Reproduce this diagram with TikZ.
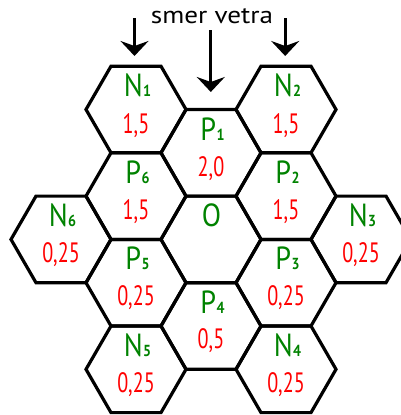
\documentclass[tikz,border=0pt]{standalone}
\usepackage{fontspec}
\setmainfont{PT Sans}
\usepackage{graphicx}
\usetikzlibrary{arrows.meta}
\definecolor{lblgreen}{RGB}{0,130,0}
\definecolor{valred}{RGB}{255,0,0}
\newcommand{\hexlab}[2]{\scalebox{0.88}[1]{#1\kern0.5pt{\bfseries\fontsize{16}{16}\selectfont #2}}}
\newcommand{\hexval}[1]{\scalebox{0.72}[1]{#1}}
\tikzset{
  hexline/.style={line width=3.2pt, line join=miter},
  lbl/.style={text=lblgreen, inner sep=0pt, anchor=base, font=\fontsize{32}{32}\selectfont},
  val/.style={text=valred, inner sep=0pt, anchor=base, font=\fontsize{28}{28}\selectfont},
  windarrow/.style={line width=3pt, -{Stealth[length=15pt,width=28pt,inset=5pt]}},
  title/.style={inner sep=0pt, anchor=base, font=\fontsize{24}{24}\selectfont}
}
\begin{document}
\begin{tikzpicture}[x=1pt,y=-1pt]
\useasboundingbox (0,0) rectangle (401,415);
% hexagons
\foreach \x/\y in {136/109.5, 286/109.5, 211/152.8, 136/196.1, 286/196.1,
                   61/239.4, 211/239.4, 361/239.4, 136/282.7, 286/282.7,
                   211/326, 136/369.3, 286/369.3}
  \draw[hexline] (\x,\y) +(0:50) -- +(60:50) -- +(120:50) -- +(180:50)
                 -- +(240:50) -- +(300:50) -- cycle;
% labels
\node[lbl] (lN1) at (137.5,96.7) {\hexlab{N}{1}};
\node[val] (vN1) at (136,133.3) {\hexval{1,5}};
\node[lbl] (lN2) at (287.5,96.7) {\hexlab{N}{2}};
\node[val] (vN2) at (286,133.3) {\hexval{1,5}};
\node[lbl] (lP1) at (212.5,140) {\hexlab{P}{1}};
\node[val] (vP1) at (211,176) {\hexval{2,0}};
\node[lbl] (lP6) at (137.5,183.3) {\hexlab{P}{6}};
\node[val] (vP6) at (136,219.3) {\hexval{1,5}};
\node[lbl] (lP2) at (287.5,183.3) {\hexlab{P}{2}};
\node[val] (vP2) at (286,219.3) {\hexval{1,5}};
\node[lbl] (lN6) at (62.5,226.6) {\hexlab{N}{6}};
\node[val] (vN6) at (61,262.6) {\hexval{0,25}};
\node[lbl] (lO) at (211.5,226.4) {\scalebox{0.88}[1]{O}};
\node[lbl] (lN3) at (362.5,226.6) {\hexlab{N}{3}};
\node[val] (vN3) at (361,262.6) {\hexval{0,25}};
\node[lbl] (lP5) at (137.5,269.9) {\hexlab{P}{5}};
\node[val] (vP5) at (136,305.9) {\hexval{0,25}};
\node[lbl] (lP3) at (287.5,269.9) {\hexlab{P}{3}};
\node[val] (vP3) at (286,305.9) {\hexval{0,25}};
\node[lbl] (lP4) at (212.5,313) {\hexlab{P}{4}};
\node[val] (vP4) at (211,348.5) {\hexval{0,5}};
\node[lbl] (lN5) at (137.5,356.6) {\hexlab{N}{5}};
\node[val] (vN5) at (136,392.7) {\hexval{0,25}};
\node[lbl] (lN4) at (287.5,356.6) {\hexlab{N}{4}};
\node[val] (vN4) at (286,392.7) {\hexval{0,25}};
% wind direction
\node[title] (wind) at (212,23.3) {\scalebox{1.13}[1]{smer vetra}};
\coordinate (a1s) at (134.5,18);
\coordinate (a1e) at (134.5,56);
\coordinate (a2s) at (210.8,30);
\coordinate (a2e) at (210.8,92);
\coordinate (a3s) at (285.2,18);
\coordinate (a3e) at (285.2,56);
\draw[windarrow] (a1s) -- (a1e);
\draw[windarrow] (a2s) -- (a2e);
\draw[windarrow] (a3s) -- (a3e);
\end{tikzpicture}
\end{document}
